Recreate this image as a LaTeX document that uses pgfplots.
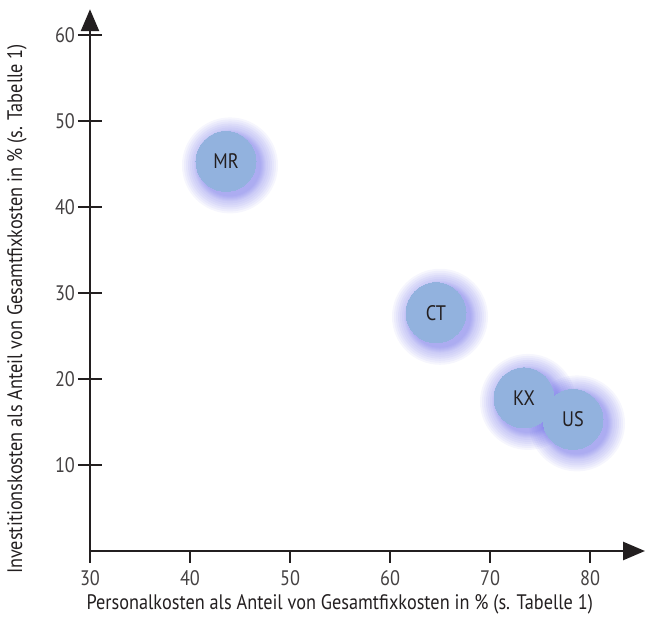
\documentclass[border=0pt]{standalone}
\usepackage{fontspec}
\setmainfont{PT Sans}[FakeStretch=0.87]
\usepackage{pgfplots}
\pgfplotsset{compat=1.18}
\usepackage{pgfplotstable}
\usetikzlibrary{arrows.meta}
\definecolor{bub}{RGB}{146,178,222}
\definecolor{glow}{RGB}{95,95,228}
\definecolor{axc}{RGB}{35,31,32}
\pgfplotstableread{
x y lab
43.6 45.3 MR
64.6 27.7 CT
73.4 17.8 KX
78.3 15.3 US
}\bubbles
\pgfplotsset{glowlayer/.style={only marks, mark=*, mark size=#1,
    mark options={draw=glow, draw opacity=0, line width=0pt, fill=glow, fill opacity=0.06, xshift=2pt, yshift=-2pt}}}
\begin{document}
\begin{tikzpicture}
\begin{axis}[
  name=ax,
  x=5pt, y=4.3pt,
  xmin=30, xmax=85.5, ymin=0, ymax=63,
  axis lines=left,
  axis line style={axc, line width=1.3pt, -{Triangle[length=11pt,width=9pt]}},
  xtick={30,40,50,60,70,80},
  ytick={10,20,30,40,50,60},
  tick align=center,
  major tick length=12pt,
  tick style={axc, line width=0.7pt},
  xtick style={dash pattern=on 6pt off 6pt},
  /pgf/number format/assume math mode=true,
  tick label style={font=\fontsize{10.5}{12}\selectfont, text=axc!85},
  yticklabel style={xshift=2pt},
  label style={font=\fontsize{10.5}{12}\selectfont, text=axc},
  xlabel={Personalkosten als Anteil von Gesamtfixkosten in \% (s. Tabelle 1)},
  ylabel={Investitionskosten als Anteil von Gesamtfixkosten in \% (s. Tabelle 1)},
  xlabel style={at={(axis description cs:0.45,-0.098)}, anchor=center},
  ylabel style={at={(axis description cs:-0.1315,0.4467)}, anchor=center, rotate=0},
  clip=false,
]
\addplot[glowlayer=24pt] table[x=x,y=y] {\bubbles};
\addplot[glowlayer=23pt] table[x=x,y=y] {\bubbles};
\addplot[glowlayer=22pt] table[x=x,y=y] {\bubbles};
\addplot[glowlayer=21pt] table[x=x,y=y] {\bubbles};
\addplot[glowlayer=20pt] table[x=x,y=y] {\bubbles};
\addplot[glowlayer=19pt] table[x=x,y=y] {\bubbles};
\addplot[glowlayer=18pt] table[x=x,y=y] {\bubbles};
\addplot[glowlayer=17.5pt] table[x=x,y=y] {\bubbles};
\addplot[glowlayer=17pt] table[x=x,y=y] {\bubbles};
\addplot[glowlayer=16.5pt] table[x=x,y=y] {\bubbles};
\addplot[glowlayer=16pt] table[x=x,y=y] {\bubbles};
\addplot[glowlayer=15.5pt] table[x=x,y=y] {\bubbles};
\addplot[only marks, mark=*, mark size=15pt,
  mark options={draw=bub, line width=0pt, fill=bub},
  nodes near coords, point meta=explicit symbolic,
  nodes near coords align=center,
  every node near coord/.append style={font=\fontsize{10.5}{12}\selectfont, text=axc, anchor=center}]
  table[x=x,y=y,meta=lab] {\bubbles};
\end{axis}
\pgfresetboundingbox
\useasboundingbox ([xshift=-45pt,yshift=-35pt]ax.south west) rectangle ++(324pt,310.5pt);
\end{tikzpicture}
\end{document}
